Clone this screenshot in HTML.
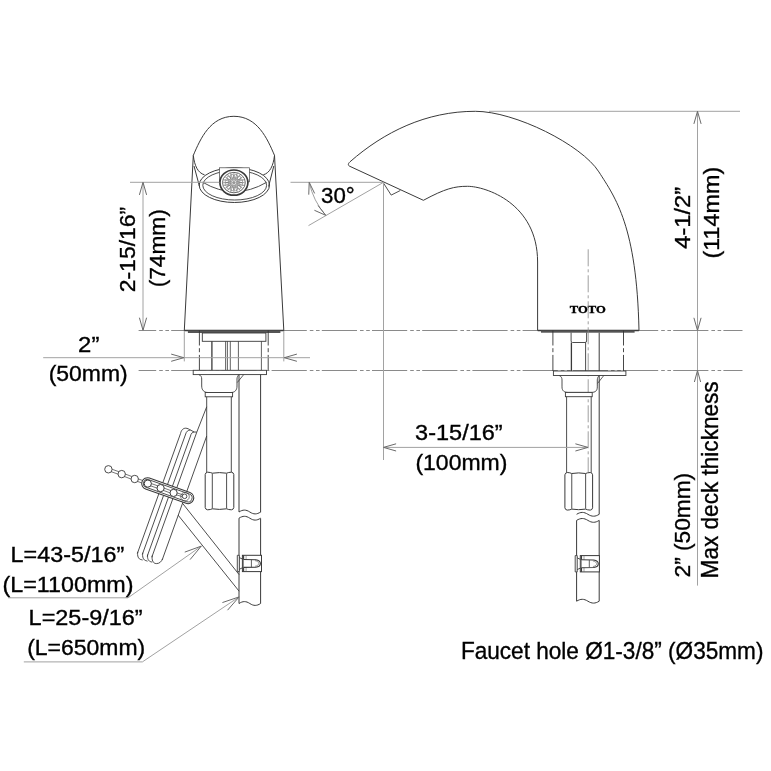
<!DOCTYPE html>
<html><head><meta charset="utf-8"><style>
html,body{margin:0;padding:0;background:#fff;width:771px;height:771px;overflow:hidden}
svg{display:block;filter:grayscale(1)}
</style></head><body>
<svg width="771" height="771" viewBox="0 0 771 771">
<rect width="771" height="771" fill="#fff"/>
<line x1="138.6" y1="330.5" x2="742.5" y2="330.5" stroke="#8a8a8a" stroke-width="1.0" stroke-dasharray="35.2 3 3.6 2.6 3.6 2.2" stroke-dashoffset="17.6"/>
<line x1="138.6" y1="370.5" x2="742.5" y2="370.5" stroke="#8a8a8a" stroke-width="1.0" stroke-dasharray="35.2 3 3.6 2.6 3.6 2.2" stroke-dashoffset="17.6"/>
<path d="M193.3,155.4 C200.55,138.38 210.45,116.3 233.9,116.3 C257.35,116.3 267.25,138.38 274.5,155.4" stroke="#3a3a3a" stroke-width="1.0" fill="none" />
<line x1="193.3" y1="155.4" x2="184.3" y2="330.5" stroke="#3a3a3a" stroke-width="1.0" />
<line x1="274.5" y1="155.3" x2="283.8" y2="330.5" stroke="#3a3a3a" stroke-width="1.0" />
<path d="M193.3,155.4 C194.5,166 198,173 204.5,174.8" stroke="#3a3a3a" stroke-width="1.0" fill="none" />
<path d="M274.5,155.4 C273.3,166 269.8,173 263.3,174.8" stroke="#3a3a3a" stroke-width="1.0" fill="none" />
<line x1="194" y1="166" x2="199.5" y2="186.5" stroke="#3a3a3a" stroke-width="1.0" />
<line x1="273.8" y1="166" x2="268.6" y2="186.5" stroke="#3a3a3a" stroke-width="1.0" />
<ellipse cx="234.35" cy="185.15" rx="35.15" ry="17.35" fill="none" stroke="#3a3a3a" stroke-width="1"/>
<ellipse cx="234.7" cy="185.3" rx="31.9" ry="14.7" fill="none" stroke="#3a3a3a" stroke-width="0.9"/>
<path d="M202.8,182.3 Q234.5,201 266.6,182.3" stroke="#3a3a3a" stroke-width="0.9" fill="none" />
<rect x="219.4" y="167.8" width="30.1" height="14" fill="#fff" stroke="#444" stroke-width="0.7"/>
<ellipse cx="233.9" cy="182.6" rx="14" ry="12.6" fill="#fff" stroke="#3a3a3a" stroke-width="1.7"/>
<ellipse cx="233.9" cy="182.6" rx="11.4" ry="10.2" fill="none" stroke="#555" stroke-width="0.9"/>
<line x1="236.50" y1="182.60" x2="244.70" y2="182.60" stroke="#777" stroke-width="0.7"/>
<line x1="236.37" y1="183.34" x2="244.17" y2="185.60" stroke="#777" stroke-width="0.7"/>
<line x1="236.00" y1="184.01" x2="242.64" y2="188.30" stroke="#777" stroke-width="0.7"/>
<line x1="235.43" y1="184.54" x2="240.25" y2="190.45" stroke="#777" stroke-width="0.7"/>
<line x1="234.70" y1="184.88" x2="237.24" y2="191.83" stroke="#777" stroke-width="0.7"/>
<line x1="233.90" y1="185.00" x2="233.90" y2="192.30" stroke="#777" stroke-width="0.7"/>
<line x1="233.10" y1="184.88" x2="230.56" y2="191.83" stroke="#777" stroke-width="0.7"/>
<line x1="232.37" y1="184.54" x2="227.55" y2="190.45" stroke="#777" stroke-width="0.7"/>
<line x1="231.80" y1="184.01" x2="225.16" y2="188.30" stroke="#777" stroke-width="0.7"/>
<line x1="231.43" y1="183.34" x2="223.63" y2="185.60" stroke="#777" stroke-width="0.7"/>
<line x1="231.30" y1="182.60" x2="223.10" y2="182.60" stroke="#777" stroke-width="0.7"/>
<line x1="231.43" y1="181.86" x2="223.63" y2="179.60" stroke="#777" stroke-width="0.7"/>
<line x1="231.80" y1="181.19" x2="225.16" y2="176.90" stroke="#777" stroke-width="0.7"/>
<line x1="232.37" y1="180.66" x2="227.55" y2="174.75" stroke="#777" stroke-width="0.7"/>
<line x1="233.10" y1="180.32" x2="230.56" y2="173.37" stroke="#777" stroke-width="0.7"/>
<line x1="233.90" y1="180.20" x2="233.90" y2="172.90" stroke="#777" stroke-width="0.7"/>
<line x1="234.70" y1="180.32" x2="237.24" y2="173.37" stroke="#777" stroke-width="0.7"/>
<line x1="235.43" y1="180.66" x2="240.25" y2="174.75" stroke="#777" stroke-width="0.7"/>
<line x1="236.00" y1="181.19" x2="242.64" y2="176.90" stroke="#777" stroke-width="0.7"/>
<line x1="236.37" y1="181.86" x2="244.17" y2="179.60" stroke="#777" stroke-width="0.7"/>
<circle cx="240.85" cy="184.28" r="1.9" fill="none" stroke="#777" stroke-width="0.6"/>
<circle cx="238.99" cy="187.20" r="1.9" fill="none" stroke="#777" stroke-width="0.6"/>
<circle cx="235.76" cy="188.88" r="1.9" fill="none" stroke="#777" stroke-width="0.6"/>
<circle cx="232.04" cy="188.88" r="1.9" fill="none" stroke="#777" stroke-width="0.6"/>
<circle cx="228.81" cy="187.20" r="1.9" fill="none" stroke="#777" stroke-width="0.6"/>
<circle cx="226.95" cy="184.28" r="1.9" fill="none" stroke="#777" stroke-width="0.6"/>
<circle cx="226.95" cy="180.92" r="1.9" fill="none" stroke="#777" stroke-width="0.6"/>
<circle cx="228.81" cy="178.00" r="1.9" fill="none" stroke="#777" stroke-width="0.6"/>
<circle cx="232.04" cy="176.32" r="1.9" fill="none" stroke="#777" stroke-width="0.6"/>
<circle cx="235.76" cy="176.32" r="1.9" fill="none" stroke="#777" stroke-width="0.6"/>
<circle cx="238.99" cy="178.00" r="1.9" fill="none" stroke="#777" stroke-width="0.6"/>
<circle cx="240.85" cy="180.92" r="1.9" fill="none" stroke="#777" stroke-width="0.6"/>
<circle cx="237.70" cy="182.60" r="1.2" fill="none" stroke="#888" stroke-width="0.5"/>
<circle cx="236.59" cy="185.00" r="1.2" fill="none" stroke="#888" stroke-width="0.5"/>
<circle cx="233.90" cy="186.00" r="1.2" fill="none" stroke="#888" stroke-width="0.5"/>
<circle cx="231.21" cy="185.00" r="1.2" fill="none" stroke="#888" stroke-width="0.5"/>
<circle cx="230.10" cy="182.60" r="1.2" fill="none" stroke="#888" stroke-width="0.5"/>
<circle cx="231.21" cy="180.20" r="1.2" fill="none" stroke="#888" stroke-width="0.5"/>
<circle cx="233.90" cy="179.20" r="1.2" fill="none" stroke="#888" stroke-width="0.5"/>
<circle cx="236.59" cy="180.20" r="1.2" fill="none" stroke="#888" stroke-width="0.5"/>
<ellipse cx="233.9" cy="182.6" rx="1.8" ry="1.6" fill="#999" stroke="none"/>
<line x1="184.3" y1="330.5" x2="283.8" y2="330.5" stroke="#3a3a3a" stroke-width="1.3" />
<rect x="187.9" y="330.5" width="92.5" height="2.5" fill="#555"/>
<line x1="199.4" y1="330.5" x2="199.4" y2="370.3" stroke="#333" stroke-width="0.9" stroke-dasharray="15 2.7 4 2.7 40"/>
<line x1="268.2" y1="330.5" x2="268.2" y2="370.3" stroke="#333" stroke-width="0.9" stroke-dasharray="15 2.7 4 2.7 40"/>
<rect x="202.3" y="333" width="63.6" height="8.3" rx="0" fill="#fff" stroke="#3a3a3a" stroke-width="0.9"/>
<line x1="211.9" y1="341.3" x2="211.9" y2="370.3" stroke="#3a3a3a" stroke-width="1.3" />
<line x1="225.6" y1="341.3" x2="225.6" y2="370.3" stroke="#3a3a3a" stroke-width="0.8" />
<line x1="227.4" y1="341.3" x2="227.4" y2="370.3" stroke="#3a3a3a" stroke-width="0.8" />
<line x1="230.3" y1="341.3" x2="230.3" y2="370.3" stroke="#3a3a3a" stroke-width="0.8" />
<line x1="238.4" y1="341.3" x2="238.4" y2="370.3" stroke="#3a3a3a" stroke-width="0.8" />
<line x1="261.4" y1="341.3" x2="261.4" y2="370.3" stroke="#3a3a3a" stroke-width="0.8" />
<rect x="193.2" y="370.3" width="73.3" height="4.3" rx="0" fill="#fff" stroke="#3a3a3a" stroke-width="0.9"/>
<path d="M198.9,374.6 C201,375.5 201.7,377 201.7,379 L201.7,386 C201.7,390 204,392.5 208,392.5 L231,392.5 C235,392.5 237,390 237,386 L237,379 C237,377 238,375.5 239,374.6" stroke="#3a3a3a" stroke-width="0.9" fill="none" />
<path d="M237.3,382.5 L243.7,374.6" stroke="#3a3a3a" stroke-width="0.8" fill="none" />
<rect x="205.2" y="392.5" width="27.4" height="4.3" rx="0" fill="#fff" stroke="#3a3a3a" stroke-width="0.9"/>
<line x1="206.7" y1="396.8" x2="206.7" y2="472.3" stroke="#3a3a3a" stroke-width="0.9" />
<line x1="231.3" y1="396.8" x2="231.3" y2="472.3" stroke="#3a3a3a" stroke-width="0.9" />
<path d="M205.2,474.5 Q205.5,472.4 207.6,472.2 Q210.6,472.3 212.3,473.2 Q219.4,472 226.6,473.2 Q228.4,472.3 231.4,472.2 Q233.5,472.4 233.8,474.5 L233.8,507.5 Q233.5,509.6 231.4,509.8 Q228.4,509.7 226.6,508.8 Q219.4,510 212.3,508.8 Q210.6,509.7 207.6,509.8 Q205.5,509.6 205.2,507.5 Z" fill="#fff" stroke="#3a3a3a" stroke-width="1"/>
<line x1="212.3" y1="473.6" x2="212.3" y2="508.4" stroke="#3a3a3a" stroke-width="0.9"/>
<line x1="226.6" y1="473.6" x2="226.6" y2="508.4" stroke="#3a3a3a" stroke-width="0.9"/>
<line x1="239" y1="374.6" x2="239" y2="512" stroke="#3a3a3a" stroke-width="1.0" />
<line x1="260.6" y1="374.6" x2="260.6" y2="512.3" stroke="#3a3a3a" stroke-width="1.0" />
<path d="M239,512 C242.89,509.47 245.91,509.47 249.8,512 C253.69,514.53 256.71,514.53 260.6,512" stroke="#3a3a3a" stroke-width="1.0" fill="none" />
<path d="M239,518.2 C242.89,515.67 245.91,515.67 249.8,518.2 C253.69,520.73 256.71,520.73 260.6,518.2" stroke="#3a3a3a" stroke-width="1.0" fill="none" />
<line x1="239" y1="518.2" x2="239" y2="603.5" stroke="#3a3a3a" stroke-width="1.0" />
<line x1="260.6" y1="518.4" x2="260.6" y2="603.5" stroke="#3a3a3a" stroke-width="1.0" />
<path d="M239,603.5 C242.89,600.97 245.91,600.97 249.8,603.5 C253.69,606.03 256.71,606.03 260.6,603.5" stroke="#3a3a3a" stroke-width="1.0" fill="none" />
<rect x="242.4" y="555.3" width="19.1" height="16.3" fill="#fff" stroke="#3a3a3a" stroke-width="1"/>
<path d="M237.3,555.3 L239.3,555.3 L239.3,571.6 L237.3,571.6 Z M239.3,557.6 L242.4,559 M242.4,567.8 L239.3,569.3" fill="#fff" stroke="#3a3a3a" stroke-width="0.9"/>
<line x1="243.6" y1="555.3" x2="243.6" y2="571.6" stroke="#3a3a3a" stroke-width="1.1"/>
<line x1="246.1" y1="555.3" x2="246.1" y2="571.6" stroke="#666" stroke-width="0.6"/>
<path d="M243.6,559.5 L255.8,559.7 C258.7,560.2 260.4,562 260.4,563.4 C260.4,565 258.7,566.8 255.8,567.2 L243.6,567.4" fill="#fff" stroke="#3a3a3a" stroke-width="1.1"/>
<path d="M255,560.6 C257.5,561.2 258.8,562.4 258.8,563.4 C258.8,564.6 257.5,565.8 255,566.3" fill="none" stroke="#555" stroke-width="0.6"/>
<line x1="251.4" y1="559.8" x2="251.4" y2="567.1" stroke="#3a3a3a" stroke-width="0.8"/>
<line x1="180.5" y1="433.6" x2="137.3" y2="553.6" stroke="#3a3a3a" stroke-width="0.9" />
<line x1="185.7" y1="434" x2="142.3" y2="554.5" stroke="#3a3a3a" stroke-width="0.9" />
<line x1="190.5" y1="436" x2="147.2" y2="556.3" stroke="#3a3a3a" stroke-width="0.9" />
<line x1="196.8" y1="432.1" x2="151.8" y2="557.2" stroke="#3a3a3a" stroke-width="0.9" />
<path d="M180.5,433.6 C181.3,429.8 183.3,428.2 185.7,428.2 C187.5,428.2 189,429.2 190.4,430 L194.2,432 L196.8,432.1" stroke="#3a3a3a" stroke-width="0.9" fill="none" />
<path d="M185.7,434 C186.3,431.5 188,430.2 190.4,430" stroke="#3a3a3a" stroke-width="0.9" fill="none" />
<path d="M190.5,436 C191,433.5 192.3,432.2 194.2,432" stroke="#3a3a3a" stroke-width="0.9" fill="none" />
<line x1="206.7" y1="406.8" x2="196.8" y2="432.1" stroke="#3a3a3a" stroke-width="0.9" />
<line x1="206.7" y1="436" x2="162.2" y2="559.9" stroke="#3a3a3a" stroke-width="0.9" />
<path d="M137.8,551.8 C137,556 138.5,559.3 141.2,559.6 L142.6,560" stroke="#3a3a3a" stroke-width="0.9" fill="none" />
<path d="M142.8,552.7 C142,557 143.5,560.4 146.2,560.7 L147.5,561.2" stroke="#3a3a3a" stroke-width="0.9" fill="none" />
<path d="M147.7,554.5 C147,558.5 148.5,561.5 151.2,561.8 L152.2,562.3" stroke="#3a3a3a" stroke-width="0.9" fill="none" />
<path d="M152.3,555.4 C151.5,560 153,563.5 156.3,563.6 C159.5,563.7 161.5,561.5 162.6,558.8" stroke="#3a3a3a" stroke-width="0.9" fill="none" />
<line x1="182.4" y1="503.1" x2="239.1" y2="574.6" stroke="#3a3a3a" stroke-width="0.9" />
<line x1="178.1" y1="515.1" x2="239.1" y2="591.2" stroke="#3a3a3a" stroke-width="0.9" />
<line x1="107.96" y1="470.52" x2="121.26" y2="475.32" stroke="#3a3a3a" stroke-width="0.7" />
<line x1="108.84" y1="468.08" x2="122.14" y2="472.88" stroke="#3a3a3a" stroke-width="0.7" />
<line x1="121.24" y1="475.32" x2="134.24" y2="480.22" stroke="#3a3a3a" stroke-width="0.7" />
<line x1="122.16" y1="472.88" x2="135.16" y2="477.78" stroke="#3a3a3a" stroke-width="0.7" />
<line x1="134.25" y1="480.22" x2="147.15" y2="484.92" stroke="#3a3a3a" stroke-width="0.7" />
<line x1="135.15" y1="477.78" x2="148.05" y2="482.48" stroke="#3a3a3a" stroke-width="0.7" />
<g transform="rotate(19.5 167.5 490.6)"><rect x="140.5" y="484.85" width="54.5" height="11.5" rx="5.75" fill="#fff" stroke="#3a3a3a" stroke-width="1"/><rect x="142.2" y="486.55" width="51.1" height="8.1" rx="4.05" fill="none" stroke="#3a3a3a" stroke-width="0.8"/></g>
<circle cx="108.4" cy="469.3" r="3.7" fill="#fff" stroke="#3a3a3a" stroke-width="0.9"/>
<circle cx="121.7" cy="474.1" r="3.7" fill="#fff" stroke="#3a3a3a" stroke-width="0.9"/>
<circle cx="134.7" cy="479.0" r="3.7" fill="#fff" stroke="#3a3a3a" stroke-width="0.9"/>
<line x1="147.4" y1="484.73" x2="160.2" y2="489.23" stroke="#3a3a3a" stroke-width="0.7" />
<line x1="148.2" y1="482.47" x2="161" y2="486.97" stroke="#3a3a3a" stroke-width="0.7" />
<line x1="160.18" y1="489.23" x2="173.18" y2="494.03" stroke="#3a3a3a" stroke-width="0.7" />
<line x1="161.02" y1="486.97" x2="174.02" y2="491.77" stroke="#3a3a3a" stroke-width="0.7" />
<line x1="173.3" y1="493.85" x2="184.1" y2="497.25" stroke="#3a3a3a" stroke-width="0.7" />
<line x1="173.9" y1="491.95" x2="184.7" y2="495.35" stroke="#3a3a3a" stroke-width="0.7" />
<circle cx="147.8" cy="483.6" r="3.6" fill="#fff" stroke="#3a3a3a" stroke-width="1"/>
<circle cx="160.6" cy="488.1" r="3.6" fill="#fff" stroke="#3a3a3a" stroke-width="1"/>
<circle cx="173.6" cy="492.9" r="3.6" fill="#fff" stroke="#3a3a3a" stroke-width="1"/>
<circle cx="184.6" cy="496.3" r="2.3" fill="#fff" stroke="#3a3a3a" stroke-width="0.9"/>
<circle cx="185" cy="496.6" r="4.3" fill="none" stroke="#444" stroke-width="0.7"/>
<path d="M350,161.8 C384,132 426,111.3 475.3,111.3 C514.8,111.3 581.6,144.7 598.9,171.9 C615.5,197.9 636.7,226.1 639,330.5" stroke="#3a3a3a" stroke-width="1.0" fill="none" />
<path d="M350,161.8 C347.6,164 348,165.6 350,166.4 L423.4,200.3 C445.4,188.5 454.4,186.3 467.5,186.3 C485.3,186.3 537.6,203 537.6,262 L537.6,330.5" stroke="#3a3a3a" stroke-width="1.0" fill="none" />
<path d="M383.5,183.1 L391.2,195.1 L400.3,190.5" stroke="#3a3a3a" stroke-width="0.9" fill="none" />
<line x1="537.7" y1="330.5" x2="638.9" y2="330.5" stroke="#3a3a3a" stroke-width="1.3" />
<rect x="541" y="330.5" width="93.6" height="2.2" fill="#555"/>
<text x="587.8" y="312.9" font-family="Liberation Serif" font-size="10.5" font-weight="bold" text-anchor="middle" fill="#000" stroke="#000" stroke-width="0.35" textLength="36" lengthAdjust="spacingAndGlyphs" >TOTO</text>
<line x1="588.2" y1="249.3" x2="588.2" y2="472" stroke="#888" stroke-width="0.8" stroke-dasharray="17 3 3 3"/>
<line x1="552.9" y1="330.5" x2="552.9" y2="371" stroke="#333" stroke-width="0.9" stroke-dasharray="15 2.7 4 2.7 40"/>
<line x1="623.5" y1="330.5" x2="623.5" y2="371" stroke="#333" stroke-width="0.9" stroke-dasharray="15 2.7 4 2.7 40"/>
<path d="M571.1,332.6 L571.1,341 Q571.1,342.5 572.5,342.5 L585,342.5 Q586.6,342.5 586.6,341 L586.6,332.6" stroke="#3a3a3a" stroke-width="0.9" fill="none" />
<line x1="571.4" y1="342.5" x2="571.4" y2="371" stroke="#3a3a3a" stroke-width="1.3" />
<line x1="585.6" y1="342.5" x2="585.6" y2="371" stroke="#3a3a3a" stroke-width="0.9" />
<line x1="599.2" y1="332.7" x2="599.2" y2="371" stroke="#3a3a3a" stroke-width="1.0" />
<rect x="553.4" y="371" width="72.5" height="4.5" rx="0" fill="#fff" stroke="#3a3a3a" stroke-width="0.9"/>
<path d="M559.2,375.5 C561.3,376.4 562,377.9 562,379.9 L562,386.9 C562,390.9 564.3,392.4 568.3,392.4 L591.3,392.4 C595.3,392.4 597.3,390.9 597.3,386.9 L597.3,379.9 C597.3,377.9 598.3,376.4 599.3,375.5" stroke="#3a3a3a" stroke-width="0.9" fill="none" />
<path d="M597.6,383.4 L603.8,375.5" stroke="#3a3a3a" stroke-width="0.8" fill="none" />
<rect x="565.4" y="392.4" width="26.8" height="4.3" rx="0" fill="#fff" stroke="#3a3a3a" stroke-width="0.9"/>
<line x1="566.6" y1="396.7" x2="566.6" y2="472.7" stroke="#3a3a3a" stroke-width="0.9" />
<line x1="591.2" y1="396.7" x2="591.2" y2="472.7" stroke="#3a3a3a" stroke-width="0.9" />
<line x1="599.2" y1="375.5" x2="599.2" y2="514.3" stroke="#3a3a3a" stroke-width="1.0" />
<path d="M564.9,474.8 Q565.19,472.7 567.22,472.5 Q570.13,472.6 571.78,473.5 Q578.65,472.3 585.63,473.5 Q587.37,472.6 590.28,472.5 Q592.31,472.7 592.6,474.8 L592.6,507.8 Q592.31,509.9 590.28,510.1 Q587.37,510 585.63,509.1 Q578.65,510.3 571.78,509.1 Q570.13,510 567.22,510.1 Q565.19,509.9 564.9,507.8 Z" fill="#fff" stroke="#3a3a3a" stroke-width="1"/>
<line x1="571.78" y1="473.9" x2="571.78" y2="508.7" stroke="#3a3a3a" stroke-width="0.9"/>
<line x1="585.63" y1="473.9" x2="585.63" y2="508.7" stroke="#3a3a3a" stroke-width="0.9"/>
<path d="M576.6,514.3 C580.67,511.77 583.83,511.77 587.9,514.3 C591.97,516.83 595.13,516.83 599.2,514.3" stroke="#3a3a3a" stroke-width="1.0" fill="none" />
<path d="M576.6,520.4 C580.67,517.87 583.83,517.87 587.9,520.4 C591.97,522.93 595.13,522.93 599.2,520.4" stroke="#3a3a3a" stroke-width="1.0" fill="none" />
<line x1="576.6" y1="520.4" x2="576.6" y2="601.2" stroke="#3a3a3a" stroke-width="1.0" />
<line x1="599.2" y1="520.4" x2="599.2" y2="601.2" stroke="#3a3a3a" stroke-width="1.0" />
<path d="M576.6,601.2 C580.67,598.67 583.83,598.67 587.9,601.2 C591.97,603.73 595.13,603.73 599.2,601.2" stroke="#3a3a3a" stroke-width="1.0" fill="none" />
<rect x="580.3" y="555.6" width="19.1" height="16.3" fill="#fff" stroke="#3a3a3a" stroke-width="1"/>
<path d="M575.2,555.6 L577.2,555.6 L577.2,571.9 L575.2,571.9 Z M577.2,557.9 L580.3,559.3 M580.3,568.1 L577.2,569.6" fill="#fff" stroke="#3a3a3a" stroke-width="0.9"/>
<line x1="581.5" y1="555.6" x2="581.5" y2="571.9" stroke="#3a3a3a" stroke-width="1.1"/>
<line x1="584" y1="555.6" x2="584" y2="571.9" stroke="#666" stroke-width="0.6"/>
<path d="M581.5,559.8 L593.7,560 C596.6,560.5 598.3,562.3 598.3,563.7 C598.3,565.3 596.6,567.1 593.7,567.5 L581.5,567.7" fill="#fff" stroke="#3a3a3a" stroke-width="1.1"/>
<path d="M592.9,560.9 C595.4,561.5 596.7,562.7 596.7,563.7 C596.7,564.9 595.4,566.1 592.9,566.6" fill="none" stroke="#555" stroke-width="0.6"/>
<line x1="589.3" y1="560.1" x2="589.3" y2="567.4" stroke="#3a3a3a" stroke-width="0.8"/>
<line x1="130" y1="182.3" x2="219.4" y2="182.3" stroke="#a2a2a2" stroke-width="1.0" />
<line x1="290.5" y1="182.3" x2="383.5" y2="182.3" stroke="#a2a2a2" stroke-width="1.0" />
<line x1="143" y1="182.3" x2="143" y2="330.3" stroke="#a2a2a2" stroke-width="1.0" />
<path d="M146.60,194.90 L143.00,182.30 L139.40,194.90" stroke="#6a6a6a" stroke-width="1.0" fill="none"/>
<path d="M139.40,317.70 L143.00,330.30 L146.60,317.70" stroke="#6a6a6a" stroke-width="1.0" fill="none"/>
<line x1="43.2" y1="357.7" x2="310" y2="357.7" stroke="#a2a2a2" stroke-width="1.0" />
<line x1="184.3" y1="331" x2="184.3" y2="361.4" stroke="#a2a2a2" stroke-width="1.0" />
<line x1="283.8" y1="331" x2="283.8" y2="361.4" stroke="#a2a2a2" stroke-width="1.0" />
<path d="M171.20,361.30 L183.80,357.70 L171.20,354.10" stroke="#6a6a6a" stroke-width="1.0" fill="none"/>
<path d="M296.90,354.10 L284.30,357.70 L296.90,361.30" stroke="#6a6a6a" stroke-width="1.0" fill="none"/>
<line x1="383.5" y1="182.3" x2="308.5" y2="225.6" stroke="#a2a2a2" stroke-width="1.0" />
<path d="M309.2,182.3 A74,74 0 0,0 325.7,215.3" stroke="#a2a2a2" stroke-width="1.0" fill="none" />
<path d="M314.63,193.41 L309.20,182.30 L308.76,194.66" stroke="#6a6a6a" stroke-width="1.0" fill="none"/>
<path d="M314.40,210.28 L325.70,215.30 L318.09,205.55" stroke="#6a6a6a" stroke-width="1.0" fill="none"/>
<line x1="383.5" y1="182.3" x2="383.5" y2="460" stroke="#a2a2a2" stroke-width="1.0" />
<line x1="489" y1="111.3" x2="740" y2="111.3" stroke="#a2a2a2" stroke-width="1.0" />
<line x1="697.5" y1="111.3" x2="697.5" y2="585.6" stroke="#a2a2a2" stroke-width="1.0" />
<path d="M701.10,123.90 L697.50,111.30 L693.90,123.90" stroke="#6a6a6a" stroke-width="1.0" fill="none"/>
<path d="M693.90,317.80 L697.50,330.40 L701.10,317.80" stroke="#6a6a6a" stroke-width="1.0" fill="none"/>
<path d="M700.60,382.00 L697.50,370.50 L694.40,382.00" stroke="#6a6a6a" stroke-width="1.0" fill="none"/>
<line x1="383.5" y1="447.4" x2="588" y2="447.4" stroke="#a2a2a2" stroke-width="1.0" />
<path d="M396.10,443.80 L383.50,447.40 L396.10,451.00" stroke="#6a6a6a" stroke-width="1.0" fill="none"/>
<path d="M575.40,451.00 L588.00,447.40 L575.40,443.80" stroke="#6a6a6a" stroke-width="1.0" fill="none"/>
<path d="M8.2,597.8 L128,597.8 L201.3,546.1" stroke="#a2a2a2" stroke-width="1.0" fill="none" />
<path d="M190.04,559.64 L201.30,546.10 L184.75,552.11" stroke="#6a6a6a" stroke-width="1.0" fill="none"/>
<path d="M23.8,661.9 L142.4,661.9 L239.1,596.9" stroke="#a2a2a2" stroke-width="1.0" fill="none" />
<path d="M227.56,610.20 L239.10,596.90 L222.42,602.56" stroke="#6a6a6a" stroke-width="1.0" fill="none"/>
<text x="135.0" y="292.3" font-family="Liberation Sans" font-size="22.4" font-weight="normal" text-anchor="start" fill="#000" stroke="#000" stroke-width="0.35" transform="rotate(-90 135.0 292.3)" textLength="85.54" lengthAdjust="spacingAndGlyphs" >2-15/16”</text>
<text x="165.3" y="287.3" font-family="Liberation Sans" font-size="22.2" font-weight="normal" text-anchor="start" fill="#000" stroke="#000" stroke-width="0.35" transform="rotate(-90 165.3 287.3)" textLength="78.06" lengthAdjust="spacingAndGlyphs" >(74mm)</text>
<text x="78.1" y="351.6" font-family="Liberation Sans" font-size="22.0" font-weight="normal" text-anchor="start" fill="#000" stroke="#000" stroke-width="0.35" textLength="21.24" lengthAdjust="spacingAndGlyphs" >2”</text>
<text x="48.7" y="381.4" font-family="Liberation Sans" font-size="22.0" font-weight="normal" text-anchor="start" fill="#000" stroke="#000" stroke-width="0.35" textLength="79.05" lengthAdjust="spacingAndGlyphs" >(50mm)</text>
<text x="321.0" y="202.5" font-family="Liberation Sans" font-size="22.0" font-weight="normal" text-anchor="start" fill="#000" stroke="#000" stroke-width="0.35" textLength="33.69" lengthAdjust="spacingAndGlyphs" >30°</text>
<text x="689.9" y="248.8" font-family="Liberation Sans" font-size="22.5" font-weight="normal" text-anchor="start" fill="#000" stroke="#000" stroke-width="0.35" transform="rotate(-90 689.9 248.8)" textLength="62.01" lengthAdjust="spacingAndGlyphs" >4-1/2”</text>
<text x="719.1" y="258.4" font-family="Liberation Sans" font-size="22.8" font-weight="normal" text-anchor="start" fill="#000" stroke="#000" stroke-width="0.35" transform="rotate(-90 719.1 258.4)" textLength="91.56" lengthAdjust="spacingAndGlyphs" >(114mm)</text>
<text x="690.3" y="577.4" font-family="Liberation Sans" font-size="22.9" font-weight="normal" text-anchor="start" fill="#000" stroke="#000" stroke-width="0.35" transform="rotate(-90 690.3 577.4)" textLength="104.55" lengthAdjust="spacingAndGlyphs" >2” (50mm)</text>
<text x="718.3" y="578.4" font-family="Liberation Sans" font-size="24.0" font-weight="normal" text-anchor="start" fill="#000" stroke="#000" stroke-width="0.35" transform="rotate(-90 718.3 578.4)" textLength="197.05" lengthAdjust="spacingAndGlyphs" >Max deck thickness</text>
<text x="415.1" y="440.0" font-family="Liberation Sans" font-size="22.2" font-weight="normal" text-anchor="start" fill="#000" stroke="#000" stroke-width="0.35" textLength="87.54" lengthAdjust="spacingAndGlyphs" >3-15/16”</text>
<text x="415.4" y="469.9" font-family="Liberation Sans" font-size="22.2" font-weight="normal" text-anchor="start" fill="#000" stroke="#000" stroke-width="0.35" textLength="92.05" lengthAdjust="spacingAndGlyphs" >(100mm)</text>
<text x="10.6" y="562.4" font-family="Liberation Sans" font-size="22.2" font-weight="normal" text-anchor="start" fill="#000" stroke="#000" stroke-width="0.35" textLength="113.57" lengthAdjust="spacingAndGlyphs" >L=43-5/16”</text>
<text x="2.5" y="592.1" font-family="Liberation Sans" font-size="22.0" font-weight="normal" text-anchor="start" fill="#000" stroke="#000" stroke-width="0.35" textLength="131.03" lengthAdjust="spacingAndGlyphs" >(L=1100mm)</text>
<text x="28.6" y="624.9" font-family="Liberation Sans" font-size="22.2" font-weight="normal" text-anchor="start" fill="#000" stroke="#000" stroke-width="0.35" textLength="114.06" lengthAdjust="spacingAndGlyphs" >L=25-9/16”</text>
<text x="27.2" y="654.5" font-family="Liberation Sans" font-size="22.2" font-weight="normal" text-anchor="start" fill="#000" stroke="#000" stroke-width="0.35" textLength="118.04" lengthAdjust="spacingAndGlyphs" >(L=650mm)</text>
<text x="460.9" y="658.8" font-family="Liberation Sans" font-size="24.3" font-weight="normal" text-anchor="start" fill="#000" stroke="#000" stroke-width="0.35" textLength="302.54" lengthAdjust="spacingAndGlyphs" >Faucet hole Ø1-3/8” (Ø35mm)</text>
</svg>
</body></html>
